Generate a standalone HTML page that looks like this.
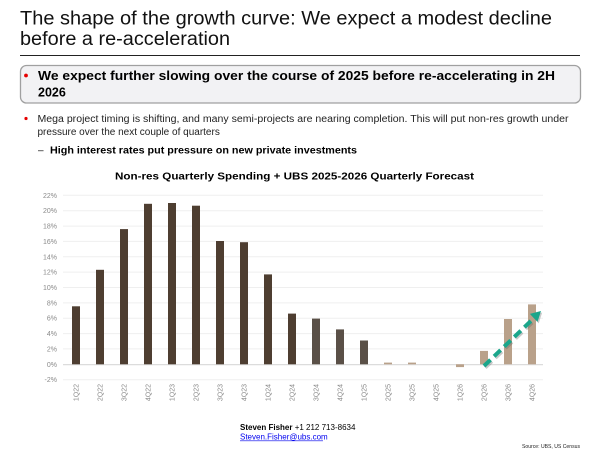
<!DOCTYPE html>
<html><head><meta charset="utf-8"><style>
html,body{margin:0;padding:0;background:#fff;}
svg{display:block;}
text{font-family:"Liberation Sans",Arial,sans-serif;}
</style></head><body>
<svg width="604" height="457" viewBox="0 0 604 457" xmlns="http://www.w3.org/2000/svg">
<rect width="604" height="457" fill="#fff"/>
<!-- Title -->
<text x="20" y="24.5" font-size="19" fill="#111" textLength="532" lengthAdjust="spacingAndGlyphs">The shape of the growth curve: We expect a modest decline</text>
<text x="20" y="45" font-size="19" fill="#111" textLength="210" lengthAdjust="spacingAndGlyphs">before a re-acceleration</text>
<line x1="20" y1="55.5" x2="580" y2="55.5" stroke="#222" stroke-width="1"/>
<!-- Box -->
<rect x="20.5" y="65.5" width="560" height="37.5" rx="6" ry="6" fill="#f2f2f4" stroke="#a0a0a0" stroke-width="1.3"/>
<circle cx="26" cy="75.5" r="1.9" fill="#e60000"/>
<text x="38" y="80" font-size="12.5" font-weight="bold" fill="#000" textLength="517" lengthAdjust="spacingAndGlyphs">We expect further slowing over the course of 2025 before re-accelerating in 2H</text>
<text x="38" y="96.5" font-size="12.5" font-weight="bold" fill="#000">2026</text>
<!-- Body bullets -->
<circle cx="26" cy="118.5" r="1.6" fill="#e60000"/>
<text x="37.5" y="121.8" font-size="10" fill="#222" textLength="531" lengthAdjust="spacingAndGlyphs">Mega project timing is shifting, and many semi-projects are nearing completion. This will put non-res growth under</text>
<text x="37.5" y="135" font-size="10" fill="#222">pressure over the next couple of quarters</text>
<text x="38" y="153.5" font-size="10" fill="#111">–</text>
<text x="50" y="153.5" font-size="10" font-weight="bold" fill="#000" textLength="307" lengthAdjust="spacingAndGlyphs">High interest rates put pressure on new private investments</text>
<!-- Chart title -->
<text x="115" y="179.5" font-size="10.5" font-weight="bold" fill="#000" textLength="359" lengthAdjust="spacingAndGlyphs">Non-res Quarterly Spending + UBS 2025-2026 Quarterly Forecast</text>
<!-- Gridlines -->
<g stroke="#efefef" stroke-width="1">
<line x1="63" y1="195.3" x2="543" y2="195.3"/>
<line x1="63" y1="210.7" x2="543" y2="210.7"/>
<line x1="63" y1="226.1" x2="543" y2="226.1"/>
<line x1="63" y1="241.4" x2="543" y2="241.4"/>
<line x1="63" y1="256.8" x2="543" y2="256.8"/>
<line x1="63" y1="272.1" x2="543" y2="272.1"/>
<line x1="63" y1="287.5" x2="543" y2="287.5"/>
<line x1="63" y1="302.9" x2="543" y2="302.9"/>
<line x1="63" y1="318.2" x2="543" y2="318.2"/>
<line x1="63" y1="333.6" x2="543" y2="333.6"/>
<line x1="63" y1="348.9" x2="543" y2="348.9"/>
<line x1="63" y1="379.7" x2="543" y2="379.7"/>
</g>
<line x1="63" y1="364.6" x2="543" y2="364.6" stroke="#dcdcdc" stroke-width="1.2"/>
<!-- Y labels -->
<g font-size="7" fill="#8a8a8a" text-anchor="end">
<text x="57" y="197.8">22%</text>
<text x="57" y="213.2">20%</text>
<text x="57" y="228.6">18%</text>
<text x="57" y="243.9">16%</text>
<text x="57" y="259.3">14%</text>
<text x="57" y="274.6">12%</text>
<text x="57" y="290">10%</text>
<text x="57" y="305.4">8%</text>
<text x="57" y="320.7">6%</text>
<text x="57" y="336.1">4%</text>
<text x="57" y="351.4">2%</text>
<text x="57" y="366.8">0%</text>
<text x="57" y="382.2">-2%</text>
</g>
<!-- Bars -->
<g fill="#4e3e31">
<rect x="72" y="306.3" width="8" height="58"/>
<rect x="96" y="269.8" width="8" height="94.5"/>
<rect x="120" y="229.1" width="8" height="135.2"/>
<rect x="144" y="203.8" width="8" height="160.5"/>
<rect x="168" y="203" width="8" height="161.3"/>
<rect x="192" y="205.7" width="8" height="158.6"/>
<rect x="216" y="241" width="8" height="123.3"/>
<rect x="240" y="242.2" width="8" height="122.1"/>
<rect x="264" y="274.4" width="8" height="89.9"/>
<rect x="288" y="313.6" width="8" height="50.7"/>
</g>
<g fill="#5a5047">
<rect x="312" y="318.6" width="8" height="45.7"/>
<rect x="336" y="329.4" width="8" height="34.9"/>
<rect x="360" y="340.5" width="8" height="23.8"/>
</g>
<g fill="#b9a18a">
<rect x="384" y="362.6" width="8" height="1.7"/>
<rect x="408" y="362.6" width="8" height="1.7"/>
<rect x="456" y="364.3" width="8" height="2.8"/>
<rect x="480" y="350.9" width="8" height="13.4"/>
<rect x="504" y="319" width="8" height="45.3"/>
<rect x="528" y="304.4" width="8" height="59.9"/>
</g>
<!-- X labels -->
<g font-size="7" fill="#8a8a8a" text-anchor="end">
<text transform="translate(78.5,384) rotate(-90)">1Q22</text>
<text transform="translate(102.5,384) rotate(-90)">2Q22</text>
<text transform="translate(126.5,384) rotate(-90)">3Q22</text>
<text transform="translate(150.5,384) rotate(-90)">4Q22</text>
<text transform="translate(174.5,384) rotate(-90)">1Q23</text>
<text transform="translate(198.5,384) rotate(-90)">2Q23</text>
<text transform="translate(222.5,384) rotate(-90)">3Q23</text>
<text transform="translate(246.5,384) rotate(-90)">4Q23</text>
<text transform="translate(270.5,384) rotate(-90)">1Q24</text>
<text transform="translate(294.5,384) rotate(-90)">2Q24</text>
<text transform="translate(318.5,384) rotate(-90)">3Q24</text>
<text transform="translate(342.5,384) rotate(-90)">4Q24</text>
<text transform="translate(366.5,384) rotate(-90)">1Q25</text>
<text transform="translate(390.5,384) rotate(-90)">2Q25</text>
<text transform="translate(414.5,384) rotate(-90)">3Q25</text>
<text transform="translate(438.5,384) rotate(-90)">4Q25</text>
<text transform="translate(462.5,384) rotate(-90)">1Q26</text>
<text transform="translate(486.5,384) rotate(-90)">2Q26</text>
<text transform="translate(510.5,384) rotate(-90)">3Q26</text>
<text transform="translate(534.5,384) rotate(-90)">4Q26</text>
</g>
<!-- Arrow shadow -->
<g opacity="0.35" transform="translate(1.2,1.5)">
<line x1="484" y1="366" x2="533" y2="319" stroke="#666" stroke-width="4" stroke-dasharray="9 5"/>
<polygon points="541,311 537.5,321.9 529.9,313.9" fill="#666"/>
</g>
<!-- Arrow -->
<line x1="484" y1="366" x2="533" y2="319" stroke="#1ba68b" stroke-width="4" stroke-dasharray="9 5"/>
<polygon points="541,311 537.5,321.9 529.9,313.9" fill="#1ba68b"/>
<!-- Footer -->
<text x="240" y="430" font-size="8" fill="#000"><tspan font-weight="bold">Steven Fisher</tspan> +1 212 713-8634</text>
<text x="240" y="439.5" font-size="8" fill="#0000ee">Steven.Fisher@ubs.com</text>
<line x1="240" y1="440.8" x2="323" y2="440.8" stroke="#0000ee" stroke-width="0.7"/>
<text x="522" y="448" font-size="5.8" fill="#222" textLength="58" lengthAdjust="spacingAndGlyphs">Source: UBS, US Census</text>
</svg>
</body></html>
